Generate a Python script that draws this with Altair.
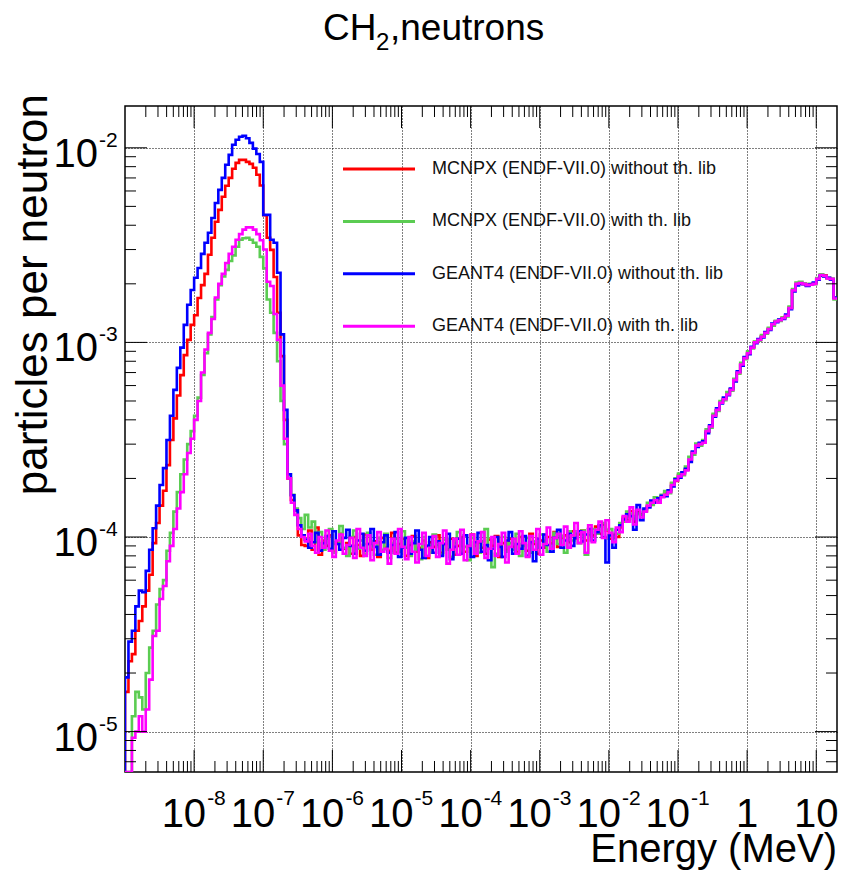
import altair as alt
import numpy as np
import pandas as pd

# ---------------- layout ----------------
W, H = 712, 666
FONT = "Liberation Sans"

# ---------------- binning (log10 E bins, 0.05 decade wide, starting at 1e-9 MeV) ----------------
LOG_E_MIN = -9.0
BIN_DEC = 0.05
UNIT = 1e-5          # values below are in units of 1e-5 particles per neutron
X_MIN, X_MAX = 1e-9, 10 ** 1.3
Y_MIN, Y_MAX = 6.2e-6, 1.64e-2

series_names = [
    "MCNPX (ENDF-VII.0) without th. lib",
    "MCNPX (ENDF-VII.0) with th. lib",
    "GEANT4 (ENDF-VII.0) without th. lib",
    "GEANT4 (ENDF-VII.0) with th. lib",
]
series_colors = ["#ff0000", "#5bcc52", "#0000ff", "#ff00ff"]

# ---- thermal peak region (bins 0-51) ----
mcnpx_noth_peak = [1.6, 2.3, 2.5, 3.3, 3.7, 4.4, 5.3, 6.4, 9.3, 11.8,
                   14.5, 17.3, 23.4, 31.5, 40.7, 53.4, 67.9, 86, 103, 123,
                   138, 169, 197, 225, 282, 345, 417, 480, 560, 638,
                   701, 780, 837, 867, 867, 847, 827, 790, 727, 640,
                   450, 345, 299, 217, 142, 85, 40, 20, 15.5, 13.7,
                   10.2, 9.1]
mcnpx_th_peak = [0.62, 0.62, 1.2, 1.6, 1.5, 1.3, 2.0, 2.7, 3.3, 4.5,
                 5.4, 6.0, 8.5, 10.5, 13.5, 17, 21, 25, 30, 35,
                 42, 52, 68, 88, 110, 135, 166, 197, 218, 236,
                 262, 280, 310, 337, 343, 345, 337, 325, 310, 275,
                 240, 166, 142, 112, 80, 50, 30, 21, 16.5, 14,
                 12.5, 11]
geant_noth_peak = [1.9, 2.9, 3.3, 4.4, 5.3, 5.2, 6.7, 8.6, 11.1, 14.5,
                   18.5, 22.6, 31.5, 42, 57, 74, 94, 123, 156, 186,
                   215, 241, 285, 325, 366, 436, 520, 608, 701, 818,
                   920, 1036, 1100, 1140, 1153, 1120, 1060, 990, 930, 847,
                   452, 452, 337, 325, 228, 110, 45, 21, 16.4, 13.7,
                   11.5, 10.2]
geant_th_peak = [0.62, 0.62, 0.93, 1.0, 1.2, 1.0, 1.3, 1.85, 3.1, 3.3,
                 4.8, 5.6, 7.5, 9.0, 11, 14, 17, 21, 27, 32,
                 40, 50, 70, 92, 112, 132, 170, 200, 225, 256,
                 285, 310, 337, 360, 380, 390, 390, 380, 360, 335,
                 300, 205, 195, 140, 103, 60, 32, 20, 15, 13,
                 11, 10]

# ---- epithermal plateau (bins 52-139) ----
mcnpx_noth_flat = [9.0, 10.8, 8.6, 11.2, 8.1, 9.6, 9.0, 10.2, 8.4, 9.4,
                   10.4, 8.7, 9.3, 8.2, 10.0, 9.1, 8.0, 10.3, 9.2, 8.6,
                   9.5, 7.9, 9.9, 8.8, 8.5, 10.5, 8.3, 9.2, 9.8, 8.0,
                   9.1, 10.1, 8.4, 8.8, 9.6, 7.8, 9.4, 8.9, 10.2, 8.3,
                   9.2, 8.6, 9.8, 8.1, 9.0, 10.0, 8.4, 8.9, 10.3, 8.0,
                   9.4, 8.8, 8.2, 9.7, 9.0, 10.1, 7.9, 9.3, 8.6, 9.8,
                   8.9, 8.4, 10.0, 9.1, 8.5, 10.4, 9.2, 8.2, 9.6, 8.8,
                   10.0, 9.3, 10.6, 8.9, 9.9, 10.2, 9.4, 10.7, 9.8, 10.3,
                   10.8, 9.6, 11.0, 10.2, 11.3, 10.4, 11.6, 10.8]
mcnpx_th_flat = [13.0, 11.2, 12.0, 9.4, 10.6, 8.6, 9.8, 11.0, 8.3, 9.2,
                 11.4, 8.8, 8.0, 10.0, 10.8, 8.7, 9.6, 8.2, 10.5, 9.0,
                 8.1, 9.9, 8.6, 10.4, 7.8, 9.3, 9.8, 8.4, 10.7, 8.8,
                 8.0, 9.5, 8.6, 7.7, 10.0, 9.0, 8.3, 10.3, 9.1, 8.1,
                 9.7, 8.6, 7.9, 9.3, 10.6, 8.4, 8.9, 7.6, 9.9, 9.0,
                 8.3, 9.5, 11.0, 8.7, 7.0, 8.2, 9.2, 10.0, 8.4, 9.3,
                 8.6, 10.4, 8.0, 9.0, 9.9, 8.3, 9.5, 8.8, 10.3, 9.1,
                 8.4, 9.7, 10.5, 9.2, 10.1, 8.3, 10.7, 9.6, 10.4, 9.3,
                 10.8, 8.1, 10.2, 11.0, 10.4, 11.3, 11.8, 10.9]
geant_noth_flat = [9.7, 8.8, 9.4, 10.5, 8.5, 9.3, 10.1, 8.7, 10.7, 9.2,
                   8.6, 9.9, 10.9, 9.0, 8.2, 9.6, 10.4, 8.5, 9.2, 11.0,
                   8.9, 8.1, 9.4, 10.2, 8.3, 9.1, 10.6, 7.9, 8.8, 9.9,
                   8.2, 9.3, 10.8, 8.6, 7.8, 9.0, 10.0, 8.3, 9.5, 8.0,
                   9.2, 10.4, 7.7, 8.9, 9.8, 8.2, 10.2, 9.0, 7.9, 9.4,
                   10.5, 8.4, 9.1, 7.6, 8.7, 10.0, 8.9, 7.9, 9.6, 10.6,
                   8.2, 9.2, 8.7, 10.1, 8.0, 9.4, 7.5, 9.8, 8.8, 10.3,
                   9.1, 8.4, 9.9, 10.9, 8.8, 9.6, 10.4, 9.0, 9.9, 10.7,
                   9.5, 10.3, 11.0, 9.6, 10.6, 11.5, 10.0, 7.4]
geant_th_flat = [9.5, 10.4, 9.0, 8.3, 10.0, 8.8, 10.8, 8.5, 7.9, 9.6,
                 10.3, 8.2, 9.1, 9.9, 7.8, 11.0, 8.8, 8.0, 10.2, 7.6,
                 9.3, 10.6, 8.4, 8.7, 7.3, 9.8, 8.2, 11.0, 8.9, 7.7,
                 10.0, 8.4, 7.4, 9.2, 10.5, 8.0, 8.8, 10.1, 7.9, 9.3,
                 10.8, 7.3, 8.6, 9.8, 8.1, 10.9, 7.6, 9.0, 10.3, 8.2,
                 9.5, 10.6, 7.8, 8.7, 10.0, 8.0, 9.2, 10.5, 7.4, 8.9,
                 9.8, 8.2, 10.7, 9.3, 7.9, 10.1, 8.6, 11.0, 8.1, 9.2,
                 11.2, 8.7, 9.9, 10.4, 9.1, 11.3, 8.8, 10.2, 11.8, 9.3,
                 10.6, 8.3, 11.5, 9.4, 10.9, 12.0, 9.9, 12.2]

# ---- fast region (bins 140-205) ----
mcnpx_noth_fast = [9.8, 10.3, 10.0, 11.2, 12.6, 12.2, 13.6, 12.0, 13.4, 13.1,
                   13.6, 14.4, 15.2, 15.3, 15.4, 16.1, 16.7, 17.1, 18.8, 19.4,
                   20.8, 21.3, 22.2, 24.8, 27.2, 29.2, 30.2, 30.8, 34.8, 37.2,
                   42.3, 44.8, 49.3, 51.3, 54.2, 57.4, 64.5, 69.5, 77.4, 83.5,
                   88.4, 94.2, 100.5, 103.4, 107.5, 112.3, 117.6, 123.5, 128.4, 130.2,
                   133.6, 137.4, 151, 186, 199, 201, 200, 197.5, 198, 201,
                   211, 221, 221, 214, 211, 169]
mcnpx_th_fast = [11.0, 9.9, 10.4, 11.8, 12.0, 13.5, 13.2, 12.4, 13.2, 13.0,
                 13.8, 15.0, 14.6, 16.0, 15.5, 16.5, 17.2, 16.8, 19.0, 20.0,
                 21.2, 20.8, 23.0, 25.8, 26.5, 30.2, 29.5, 31.5, 35.8, 36.5,
                 43.0, 44.5, 50.0, 50.5, 55.5, 56.5, 65.0, 69.0, 78.5, 82.0,
                 90, 93, 101, 102, 109, 111, 119, 122, 129, 129,
                 134, 136, 153, 188, 203, 205, 201, 196, 200, 199,
                 214, 224, 219, 214, 213, 166]
geant_noth_fast = [10.2, 8.8, 10.9, 11.5, 12.3, 13.1, 12.8, 10.9, 14.6, 12.2,
                   14.0, 14.2, 15.4, 15.0, 15.8, 16.3, 16.2, 17.4, 18.2, 19.8,
                   20.2, 21.5, 22.4, 24.3, 27.5, 29.0, 30.5, 31.0, 34.2, 37.5,
                   41.5, 45.8, 48.5, 52.0, 53.5, 58.0, 63.0, 71.0, 76.0, 84.0,
                   87, 95, 99, 104, 106, 113, 116, 125, 127, 131,
                   132, 139, 148, 183, 196, 200, 199, 195, 199, 203,
                   210, 220, 218, 215, 210, 170]
geant_th_fast = [10.5, 9.4, 11.2, 10.6, 12.8, 12.0, 14.2, 11.6, 13.8, 12.6,
                 13.5, 14.5, 15, 15.5, 15, 16, 16.5, 17, 18.5, 19.5,
                 20.5, 21, 22, 25, 27, 29.5, 30, 30.5, 35, 37,
                 42, 45, 49, 51, 54, 57, 64, 70, 77, 83,
                 88, 94, 100, 103, 107, 112, 117, 124, 128, 130,
                 133, 137, 150, 185, 200, 202, 200, 197, 198, 200,
                 212, 222, 220, 213, 212, 168]

series_values = [
    mcnpx_noth_peak + mcnpx_noth_flat + mcnpx_noth_fast,
    mcnpx_th_peak + mcnpx_th_flat + mcnpx_th_fast,
    geant_noth_peak + geant_noth_flat + geant_noth_fast,
    geant_th_peak + geant_th_flat + geant_th_fast,
]
for vals in series_values:
    assert len(vals) == 206, len(vals)

# ---------------- axis decorations ----------------
x_decades = [1e-8, 1e-7, 1e-6, 1e-5, 1e-4, 1e-3, 1e-2, 1e-1, 1.0, 10.0]
x_label_exp = ["-8", "-7", "-6", "-5", "-4", "-3", "-2", "-1"]
x_label_plain = ["1", "10"]
y_decades = [1e-5, 1e-4, 1e-3, 1e-2]
y_label_exp = ["-5", "-4", "-3", "-2"]

x_minor = [k * 10.0 ** d for d in range(-9, 2) for k in range(2, 10)
           if X_MIN < k * 10.0 ** d < X_MAX]
y_minor = [k * 10.0 ** d for d in range(-6, -1) for k in range(2, 10)
           if Y_MIN < k * 10.0 ** d < Y_MAX]

xscale = alt.Scale(type="log", domain=[X_MIN, X_MAX], nice=False)
yscale = alt.Scale(type="log", domain=[Y_MIN, Y_MAX], nice=False)
grid_kw = dict(grid=True, gridDash=[1, 2], gridColor="#000000", gridWidth=1, gridOpacity=1,
               labels=False, ticks=False, domain=False, title="")
xaxis = alt.Axis(values=x_decades, **grid_kw)
yaxis = alt.Axis(values=y_decades, **grid_kw)


def X(field):
    return alt.X(field, type="quantitative", scale=xscale, axis=xaxis)


def Y(field):
    return alt.Y(field, type="quantitative", scale=yscale, axis=yaxis)


layers = []

# histograms (step outlines)
for name, color, vals in zip(series_names, series_colors, series_values):
    n = len(vals)
    edges = 10 ** (LOG_E_MIN + BIN_DEC * np.arange(n + 1))
    xs = [edges[0]]
    ys = [Y_MIN * 0.5]
    for i, v in enumerate(vals):
        xs += [edges[i], edges[i + 1]]
        ys += [v * UNIT, v * UNIT]
    df = pd.DataFrame({"E": xs, "val": ys, "o": np.arange(len(xs))})
    layers.append(
        alt.Chart(df).mark_line(clip=True, strokeWidth=2.6, color=color, strokeJoin="miter")
        .encode(x=X("E"), y=Y("val"), order=alt.Order("o:Q"))
    )

# inward ticks on all four sides
xt_major = pd.DataFrame({"E": x_decades})
xt_minor = pd.DataFrame({"E": x_minor})
yt_major = pd.DataFrame({"v": y_decades})
yt_minor = pd.DataFrame({"v": y_minor})
for df, ln in [(xt_major, 22), (xt_minor, 11)]:
    layers.append(alt.Chart(df).mark_rule(color="black", strokeWidth=1)
                  .encode(x=X("E"), y=alt.value(H), y2=alt.value(H - ln)))
    layers.append(alt.Chart(df).mark_rule(color="black", strokeWidth=1)
                  .encode(x=X("E"), y=alt.value(0), y2=alt.value(ln)))
for df, ln in [(yt_major, 22), (yt_minor, 11)]:
    layers.append(alt.Chart(df).mark_rule(color="black", strokeWidth=1)
                  .encode(y=Y("v"), x=alt.value(0), x2=alt.value(ln)))
    layers.append(alt.Chart(df).mark_rule(color="black", strokeWidth=1)
                  .encode(y=Y("v"), x=alt.value(W), x2=alt.value(W - ln)))

# x tick labels
xl_exp = pd.DataFrame({"E": x_decades[:8], "base": ["10"] * 8, "exp": x_label_exp})
xl_plain = pd.DataFrame({"E": x_decades[8:], "txt": x_label_plain})
layers.append(alt.Chart(xl_exp).mark_text(font=FONT, fontSize=40, align="right", baseline="alphabetic", dx=12)
              .encode(x=X("E"), y=alt.value(H + 55), text="base:N"))
layers.append(alt.Chart(xl_exp).mark_text(font=FONT, fontSize=21, align="left", baseline="alphabetic", dx=13)
              .encode(x=X("E"), y=alt.value(H + 33), text="exp:N"))
layers.append(alt.Chart(xl_plain).mark_text(font=FONT, fontSize=40, align="center", baseline="alphabetic")
              .encode(x=X("E"), y=alt.value(H + 55), text="txt:N"))

# y tick labels
yl = pd.DataFrame({"v": y_decades, "base": ["10"] * 4, "exp": y_label_exp})
layers.append(alt.Chart(yl).mark_text(font=FONT, fontSize=40, align="right", baseline="alphabetic", dy=19)
              .encode(y=Y("v"), x=alt.value(-27), text="base:N"))
layers.append(alt.Chart(yl).mark_text(font=FONT, fontSize=21, align="left", baseline="alphabetic", dy=-1)
              .encode(y=Y("v"), x=alt.value(-26), text="exp:N"))

# axis titles
layers.append(alt.Chart(pd.DataFrame({"t": ["Energy (MeV)"]}))
              .mark_text(font=FONT, fontSize=40, align="right", baseline="alphabetic")
              .encode(x=alt.value(W), y=alt.value(H + 90), text="t:N"))
layers.append(alt.Chart(pd.DataFrame({"t": ["particles per neutron"]}))
              .mark_text(font=FONT, fontSize=44, align="right", baseline="alphabetic", angle=270)
              .encode(x=alt.value(-78), y=alt.value(-12), text="t:N"))

# title "CH2,neutrons"
title_parts = [("CH", 198, -66, 37), ("2", 251, -56, 24), (",neutrons", 265, -66, 37)]
for txt, tx, ty, fs in title_parts:
    layers.append(alt.Chart(pd.DataFrame({"t": [txt]}))
                  .mark_text(font=FONT, fontSize=fs, align="left", baseline="alphabetic")
                  .encode(x=alt.value(tx), y=alt.value(ty), text="t:N"))

# legend (no frame)
for k, (name, color) in enumerate(zip(series_names, series_colors)):
    ly = 63 + 52.4 * k
    layers.append(alt.Chart(pd.DataFrame({"t": [name]}))
                  .mark_rule(color=color, strokeWidth=3)
                  .encode(x=alt.value(218), x2=alt.value(290), y=alt.value(ly)))
    layers.append(alt.Chart(pd.DataFrame({"t": [name]}))
                  .mark_text(font=FONT, fontSize=18, align="left", baseline="middle", color="#111111")
                  .encode(x=alt.value(307), y=alt.value(ly), text="t:N"))

chart = (
    alt.layer(*layers)
    .properties(width=W, height=H, autosize=alt.AutoSizeParams(type="none"),
                padding={"left": 125, "top": 106, "right": 14, "bottom": 101},
                background="white")
    .configure_view(stroke="black", strokeWidth=1.5)
)

chart.save("out.html", embed_options={"renderer": "svg", "actions": False})
